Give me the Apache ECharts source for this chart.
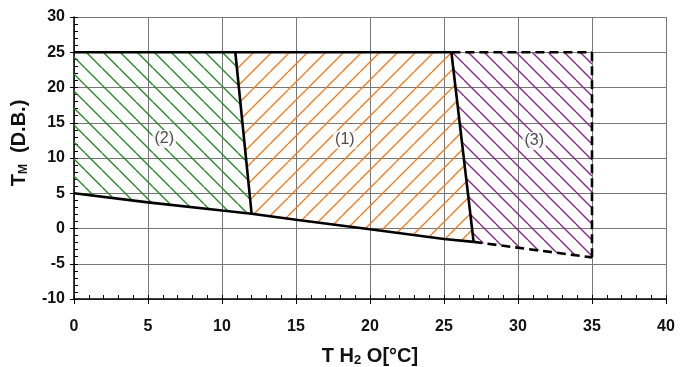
<!DOCTYPE html>
<html>
<head>
<meta charset="utf-8">
<script src="https://cdn.jsdelivr.net/npm/echarts@6/dist/echarts.min.js"></script>
<style>
html, body { margin: 0; padding: 0; background: #fff; }
#chartDom { width: 684px; height: 367px; }
</style>
</head>
<body>
<div id="chartDom"></div>
<script>
// boundary lines [T H2O, T M]
var topSolid = [[0, 25], [25.5, 25]];
var topDashed = [[25.5, 25], [35, 25]];
var bottomSolid = [[0, 5], [5, 3.7], [10, 2.55], [12, 2.1], [15, 1.25], [20, -0.1], [25, -1.5], [27, -1.9]];
var bottomDashed = [[27, -1.9], [35, -4.1]];
var rightDashed = [[35, 25], [35, -4.1]];
var divider1 = [[10.9, 25], [12, 2.1]];
var divider2 = [[25.5, 25], [27, -1.9]];

// hatched zones
var zone2 = [[0, 25], [10.9, 25], [12, 2.1], [10, 2.55], [5, 3.7], [0, 5]];
var zone1 = [[10.9, 25], [25.5, 25], [27, -1.9], [25, -1.5], [20, -0.1], [15, 1.25], [12, 2.1]];
var zone3 = [[25.5, 25], [35, 25], [35, -4.1], [27, -1.9]];

var zoneNames = ['(2)', '(1)', '(3)'];
var zoneLabelPos = [[6.1, 12.7], [18.3, 12.6], [31.1, 12.4]];

chartTM();

function hatch(size, color, dir) {
	var c = document.createElement('canvas');
	c.width = size;
	c.height = size;
	var ctx = c.getContext('2d');
	ctx.strokeStyle = color;
	ctx.lineWidth = 1.4;
	ctx.beginPath();
	for (var k = -1; k <= 1; k++) {
		if (dir > 0) {
			ctx.moveTo(k * size, size);
			ctx.lineTo(k * size + size, 0);
		} else {
			ctx.moveTo(k * size, 0);
			ctx.lineTo(k * size + size, size);
		}
	}
	ctx.stroke();
	return { image: c, repeat: 'repeat' };
}

function zoneSeries(pts, fill) {
	return {
		type: 'custom',
		data: pts,
		z: 1,
		silent: true,
		renderItem: function(params, api) {
			if (params.dataIndex !== 0) return null;
			var p = pts.map(function(d) { return api.coord(d); });
			return {
				type: 'polygon',
				shape: { points: p },
				style: { fill: fill, stroke: null }
			};
		}
	};
}

function lineSeries(data, dashed) {
	return {
		type: 'line',
		data: data,
		showSymbol: false,
		silent: true,
		z: 5,
		lineStyle: {
			color: '#000',
			width: 2.6,
			type: dashed ? [9, 5] : 'solid'
		}
	};
}

function chartTM() {
	var dom = document.getElementById('chartDom');
	var myChart = echarts.init(dom);
	var font = 'Liberation Sans';

	var option = {
		animation: false,
		backgroundColor: '#fff',
		grid: {
			left: 74,
			right: 18,
			top: 17,
			bottom: 68,
			outerBoundsMode: 'none'
		},
		xAxis: [{
			type: 'value',
			min: 0,
			max: 40,
			interval: 5,
			name: 'T H{sub|2} O[°C]',
			nameLocation: 'middle',
			nameGap: 46,
			nameTextStyle: {
				color: '#111',
				fontFamily: font,
				fontWeight: 'bold',
				fontSize: 20,
				rich: {
					sub: { fontSize: 13, fontWeight: 'bold', fontFamily: font, color: '#111', padding: [9, 0, 0, 0] }
				}
			},
			axisLine: { onZero: false, lineStyle: { color: '#000', width: 1.5 } },
			axisTick: { inside: false, length: 5, lineStyle: { color: '#000' } },
			axisLabel: { color: '#111', fontFamily: font, fontWeight: 'bold', fontSize: 16, margin: 20 },
			splitLine: { show: true, lineStyle: { color: '#777', width: 1 } }
		}, {
			type: 'value',
			min: 0,
			max: 40,
			interval: 1,
			position: 'bottom',
			axisLine: { show: false, onZero: false },
			axisTick: { inside: true, length: 4, lineStyle: { color: '#000' } },
			axisLabel: { show: false },
			splitLine: { show: false }
		}],
		yAxis: [{
			type: 'value',
			min: -10,
			max: 30,
			interval: 5,
			name: 'T{sub|M}  (D.B.)',
			nameLocation: 'middle',
			nameGap: 44,
			nameTextStyle: {
				color: '#111',
				fontFamily: font,
				fontWeight: 'bold',
				fontSize: 20,
				padding: [0, 0, 0, 30],
				rich: {
					sub: { fontSize: 12, fontWeight: 'bold', fontFamily: font, color: '#111', padding: [9, 0, 0, 0] }
				}
			},
			axisLine: { show: true, onZero: false, lineStyle: { color: '#000', width: 1.5 } },
			axisTick: { show: true, inside: false, length: 4, lineStyle: { color: '#000' } },
			axisLabel: { color: '#111', fontFamily: font, fontWeight: 'bold', fontSize: 16, margin: 9 },
			splitLine: { show: true, lineStyle: { color: '#777', width: 1 } }
		}, {
			type: 'value',
			min: -10,
			max: 30,
			interval: 1,
			position: 'left',
			axisLine: { show: false, onZero: false },
			axisTick: { show: true, inside: true, length: 4, lineStyle: { color: '#000' } },
			axisLabel: { show: false },
			splitLine: { show: false }
		}],
		series: [
			zoneSeries(zone2, hatch(17, '#2a8a2a', -1)),
			zoneSeries(zone1, hatch(18, '#f07d1c', 1)),
			zoneSeries(zone3, hatch(16, '#8a2a8a', -1)),
			lineSeries(topSolid, false),
			lineSeries(topDashed, true),
			lineSeries(bottomSolid, false),
			lineSeries(bottomDashed, true),
			lineSeries(rightDashed, true),
			lineSeries(divider1, false),
			lineSeries(divider2, false),
			{
				type: 'scatter',
				data: zoneLabelPos,
				symbolSize: 0,
				silent: true,
				z: 6,
				label: {
					show: true,
					position: 'inside',
					formatter: function(p) { return zoneNames[p.dataIndex]; },
					color: '#222',
					fontFamily: font,
					fontSize: 16,
					backgroundColor: '#fff',
					padding: [1, 2]
				}
			}
		]
	};
	myChart.setOption(option, true);
}
</script>
</body>
</html>
